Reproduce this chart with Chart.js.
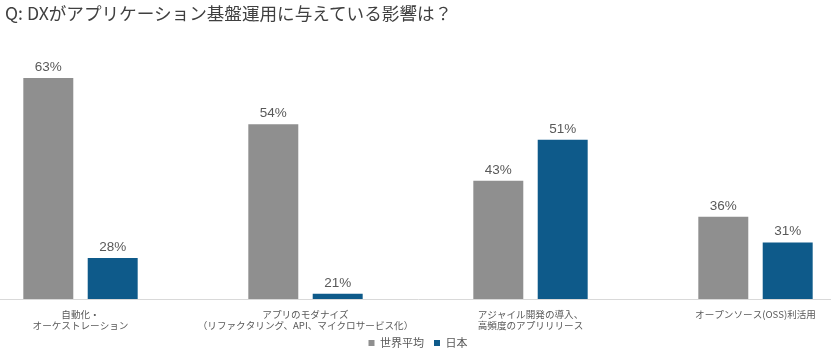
<!DOCTYPE html>
<html lang="ja">
<head>
<meta charset="utf-8">
<script src="https://cdn.jsdelivr.net/npm/chart.js@4/dist/chart.umd.min.js"></script>
<style>
  html, body { margin: 0; padding: 0; background: #ffffff; overflow: hidden; }
  body { width: 831px; height: 356px; position: relative; }
  #title { position: absolute; left: 5px; top: 4px; font-family: "Noto Sans CJK JP", sans-serif; font-size: 17.6px; line-height: 18px; color: #404040; white-space: nowrap; z-index: 2; }
  #wrap { position: absolute; left: -32px; top: 0; width: 900px; height: 356px; }
</style>
</head>
<body>
<div id="title">Q: DXがアプリケーション基盤運用に与えている影響は？</div>
<div id="wrap"><canvas id="c" width="900" height="356"></canvas></div>
<script>
const categories = [
  ["自動化・", "オーケストレーション"],
  ["アプリのモダナイズ", "（リファクタリング、API、マイクロサービス化）"],
  ["アジャイル開発の導入、", "高頻度のアプリリリース"],
  "オープンソース(OSS)利活用"
];
const seriesNames = ["世界平均", "日本"];
const worldAvg = [63, 54, 43, 36];
const japan = [28, 21, 51, 31];
const yMin = 20;
const yMax = 70;

const valueLabels = {
  id: 'valueLabels',
  afterDatasetsDraw(chart) {
    const ctx = chart.ctx;
    ctx.save();
    ctx.font = '13.5px "Liberation Sans", Arial, sans-serif';
    ctx.fillStyle = '#595959';
    ctx.textAlign = 'center';
    ctx.textBaseline = 'bottom';
    chart.data.datasets.forEach((ds, di) => {
      const meta = chart.getDatasetMeta(di);
      meta.data.forEach((bar, i) => {
        ctx.fillText(ds.data[i] + '%', bar.x, bar.y - 4);
      });
    });
    ctx.restore();
  }
};

// let the multi-line category labels extend past the axis box (no clipping)
const unclipTicks = {
  id: 'unclipTicks',
  afterLayout(chart) { chart.scales.x.bottom = chart.height; }
};

new Chart(document.getElementById('c'), {
  type: 'bar',
  data: {
    labels: categories,
    datasets: [
      { label: seriesNames[0], data: worldAvg, backgroundColor: '#8f8f8f', borderWidth: 0 },
      { label: seriesNames[1], data: japan, backgroundColor: '#0e5a8a', borderWidth: 0 }
    ]
  },
  options: {
    responsive: false,
    animation: false,
    events: [],
    layout: { padding: { top: 42, left: 0, right: 0, bottom: -2.5 } },
    datasets: { bar: { categoryPercentage: 0.5724, barPercentage: 0.776 } },
    scales: {
      x: {
        grid: { display: false, drawTicks: false },
        border: { display: true, color: '#d9d9d9', width: 1 },
        ticks: {
          autoSkip: false, maxRotation: 0, minRotation: 0, padding: 9.5,
          color: '#595959',
          font: { family: '"Noto Sans CJK JP", sans-serif', size: 9.6, lineHeight: 1.15 }
        },
        afterFit(s) { s.height = 28.5; }
      },
      y: {
        display: false,
        min: yMin, max: yMax
      }
    },
    plugins: {
      legend: {
        position: 'bottom',
        labels: {
          boxWidth: 6, boxHeight: 6, padding: 10,
          color: '#595959',
          font: { family: '"Noto Sans CJK JP", sans-serif', size: 11 }
        }
      },
      title: { display: false },
      tooltip: { enabled: false }
    }
  },
  plugins: [valueLabels, unclipTicks]
});
</script>
</body>
</html>
